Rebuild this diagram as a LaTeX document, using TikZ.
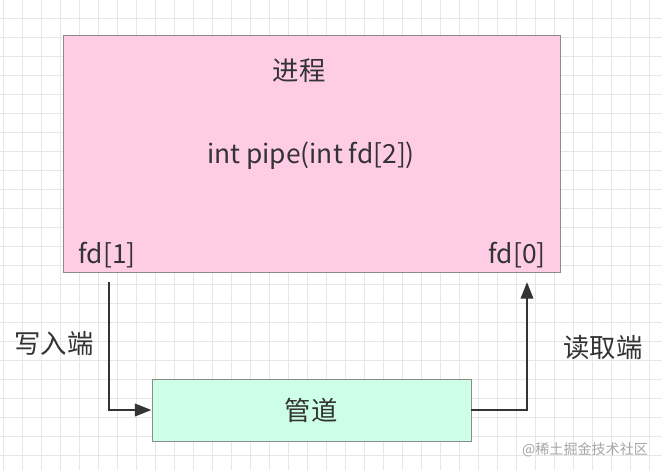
\documentclass[tikz,border=0pt]{standalone}
\usepackage{fontspec}
\setmainfont{Noto Sans CJK SC}
\usetikzlibrary{arrows.meta}
\definecolor{procpink}{HTML}{FFCCE6}
\definecolor{pipegreen}{HTML}{CCFFE6}
\definecolor{edgegray}{HTML}{8C8C8C}
\definecolor{arrowgray}{HTML}{333333}
\definecolor{gridgray}{HTML}{E6E6E6}
\tikzset{
  gridline/.style={gridgray, line width=0.5pt},
  procbox/.style={draw=edgegray, fill=procpink, line width=0.5pt, inner sep=0pt, minimum width=9.94cm, minimum height=4.74cm},
  pipebox/.style={draw=edgegray, fill=pipegreen, line width=0.5pt, inner sep=0pt, minimum width=6.38cm, minimum height=1.24cm},
  txt/.style={font=\fontsize{15}{17}\selectfont, text=arrowgray, inner sep=0pt},
  pipearrow/.style={arrowgray, line width=1.5pt, -{Triangle[length=9.5pt,width=7pt]}}
}
\begin{document}
\begin{tikzpicture}[x=0.02cm,y=-0.02cm]
        \fill[white] (0,0) rectangle (662,470);
        \useasboundingbox (0,0) rectangle (662,470);
        \foreach \gx in {3,22,...,662} \draw[gridline] (\gx,0)--(\gx,470);
        \foreach \gy in {18,37,...,470} \draw[gridline] (0,\gy)--(662,\gy);
        \node[procbox] (proc) at (311.5,153.5) {};
        \node[pipebox] (pipe) at (311.5,410) {};
        \node[txt] (title) at (299,71) {进程};
        \node[txt] (call) at (311,156) {int pipe(int fd[2])};
        \node[txt] (fd1) at (107,255) {fd[1]};
        \node[txt] (fd0) at (517,255) {fd[0]};
        \node[txt] (pipelbl) at (311,410) {管道};
        \node[txt] (wlbl) at (54,344) {写入端};
        \node[txt] (rlbl) at (603,348) {读取端};
        \node[font=\fontsize{8}{9}\selectfont, text=gray!70, inner sep=0pt] (mark) at (585,450) {@稀土掘金技术社区};
        \coordinate (wend) at (109,282);
        \coordinate (rend) at (527,282);
        \draw[pipearrow] (wend) |- (pipe.west);
        \draw[pipearrow] (pipe.east) -| (rend);
        \end{tikzpicture}
\end{document}
